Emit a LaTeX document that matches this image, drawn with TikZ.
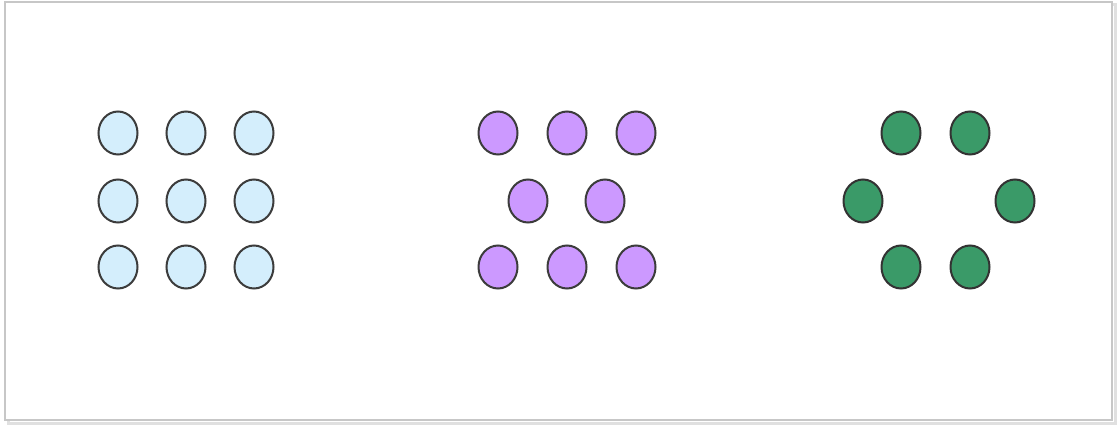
\documentclass[tikz,border=0pt]{standalone}
\usepackage{xcolor}
\usepackage{tikz}
\usetikzlibrary{positioning,shapes.geometric,backgrounds}

\definecolor{dotblue}{HTML}{D4EEFC}
\definecolor{dotpurple}{HTML}{CC99FF}
\definecolor{dotgreen}{HTML}{3A9A68}
\definecolor{dotline}{HTML}{3C3C3C}

\begin{document}
\begin{tikzpicture}[
  x=1pt, y=-1pt,
  dot/.style={ellipse, draw=dotline, line width=2pt, inner sep=0pt,
              minimum width=39pt, minimum height=43pt},
  blue/.style={dot, fill=dotblue},
  purple/.style={dot, fill=dotpurple},
  green/.style={dot, fill=dotgreen, draw=black!80},
  frame/.style={draw=black!22, line width=1.6pt}
]
  \useasboundingbox (0,0) rectangle (1118,425);
  \fill[white] (0,0) rectangle (1118,425);

  % --- frame with a soft shadow
  \draw[black!12, line width=3pt] (8,5) rectangle (1115,423);
  \draw[frame, fill=white] (5,2) rectangle (1112,420);

  % --- square grid
  \node[blue] (b11) at (118,133) {};
  \node[blue] (b12) at (186,133) {};
  \node[blue] (b13) at (254,133) {};
  \node[blue] (b21) at (118,201) {};
  \node[blue] (b22) at (186,201) {};
  \node[blue] (b23) at (254,201) {};
  \node[blue] (b31) at (118,267) {};
  \node[blue] (b32) at (186,267) {};
  \node[blue] (b33) at (254,267) {};

  % --- grid with a gap in the middle row
  \node[purple] (p11) at (498,133) {};
  \node[purple] (p12) at (567,133) {};
  \node[purple] (p13) at (636,133) {};
  \node[purple] (p21) at (528,201) {};
  \node[purple] (p22) at (605,201) {};
  \node[purple] (p31) at (498,267) {};
  \node[purple] (p32) at (567,267) {};
  \node[purple] (p33) at (636,267) {};

  % --- ring
  \node[green] (g1) at (901,133) {};
  \node[green] (g2) at (970,133) {};
  \node[green] (g3) at (863,201) {};
  \node[green] (g4) at (1015,201) {};
  \node[green] (g5) at (901,267) {};
  \node[green] (g6) at (970,267) {};
\end{tikzpicture}
\end{document}
